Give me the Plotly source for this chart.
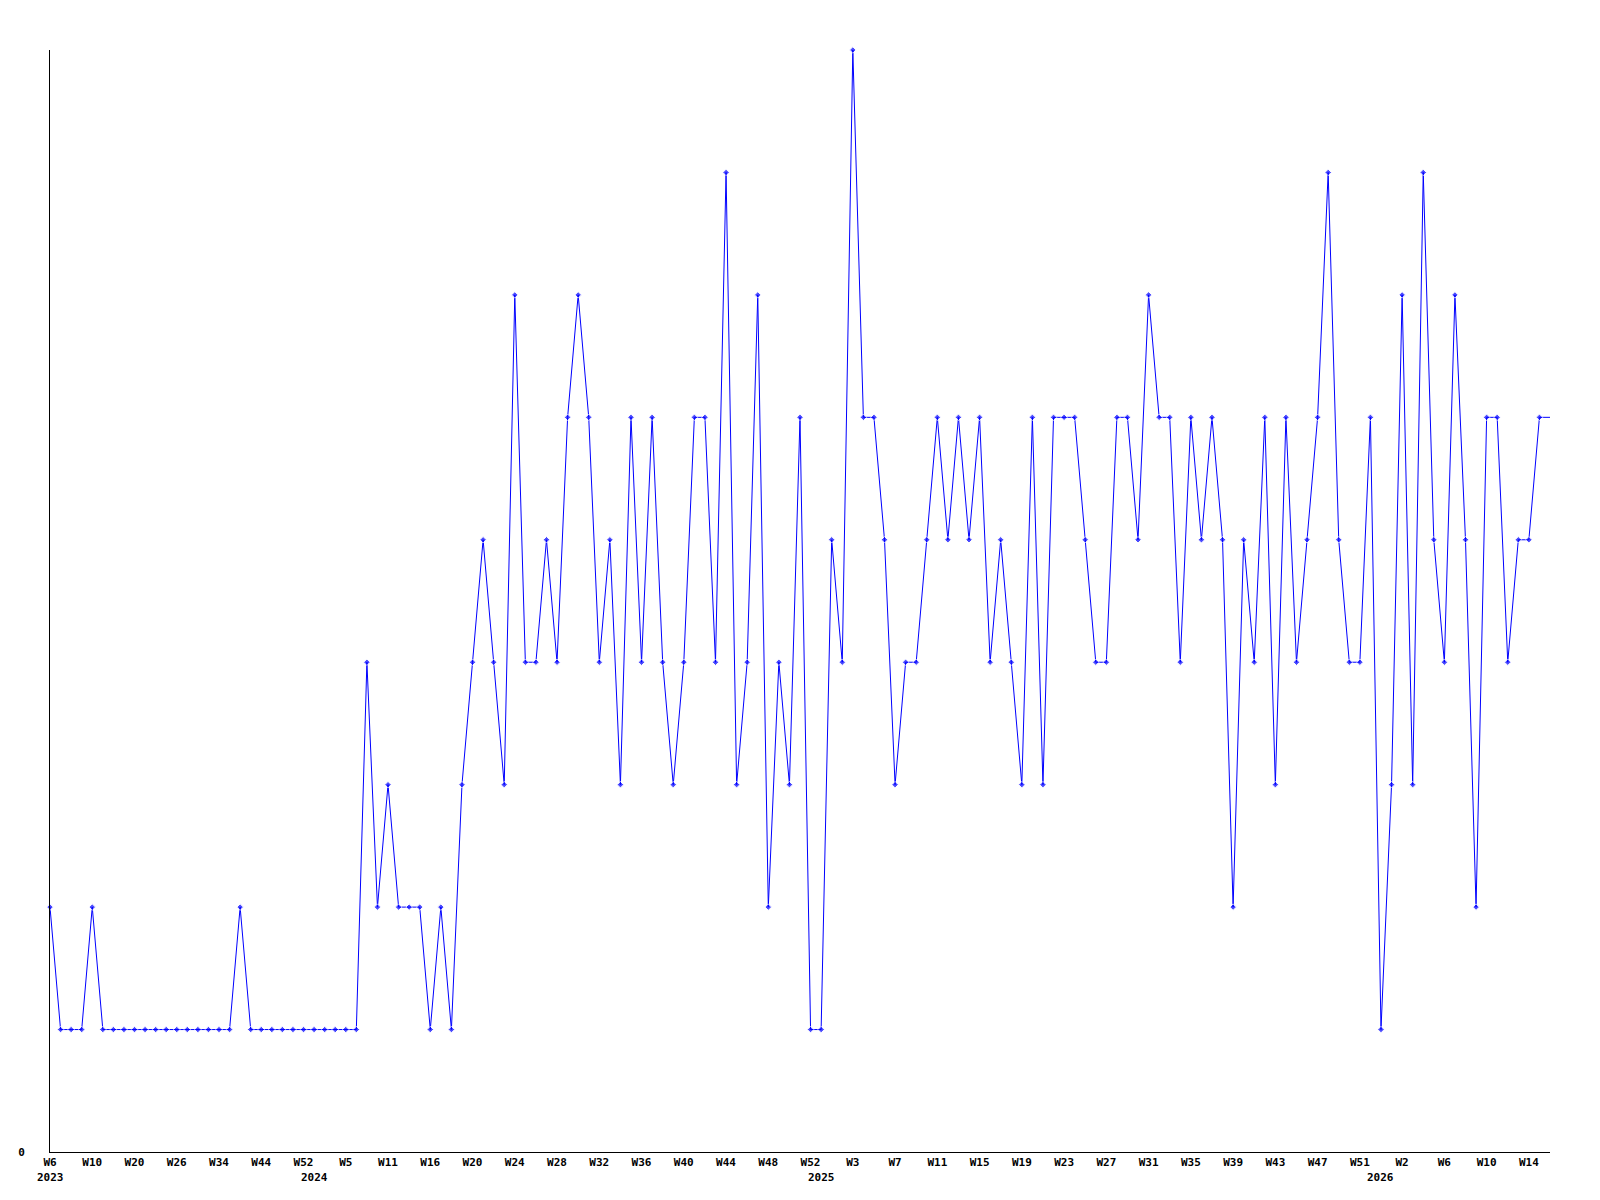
import plotly.graph_objects as go

# ---- data ----
values = [2, 1, 1, 1, 2, 1, 1, 1, 1, 1, 1, 1, 1, 1, 1, 1, 1, 1, 2, 1,
          1, 1, 1, 1, 1, 1, 1, 1, 1, 1,
          4, 2, 3, 2, 2, 2, 1, 2, 1, 3, 4, 5, 4, 3, 7, 4, 4, 5, 4, 6, 7,
          6, 4, 5, 3, 6, 4, 6, 4, 3, 4, 6, 6, 4, 8, 3, 4, 7, 2, 4, 3, 6, 1,
          1, 5, 4, 9, 6, 6, 5, 3, 4, 4, 5, 6, 5, 6, 5, 6, 4, 5, 4, 3, 6, 3, 6,
          6, 6, 5, 4, 4, 6, 6, 5, 7, 6, 6, 4, 6, 5, 6, 5, 2, 5, 4, 6, 3, 6,
          4, 5, 6, 8, 5, 4, 4, 6, 1, 3, 7, 3, 8, 5, 4, 7, 5, 2, 6, 6, 4, 5, 5, 6, 6]

week_labels = ["W6", "W10", "W20", "W26", "W34", "W44", "W52",
               "W5", "W11", "W16", "W20", "W24", "W28", "W32", "W36", "W40", "W44", "W48", "W52",
               "W3", "W7", "W11", "W15", "W19", "W23", "W27", "W31", "W35", "W39", "W43", "W47", "W51",
               "W2", "W6", "W10", "W14"]
label_step = 4

years = ["2023", "2024", "2025", "2026"]
year_index = [0, 25, 73, 126]

# ---- figure ----
n = len(values)
x = list(range(n))
tickvals = [i * label_step for i in range(len(week_labels))]
marker_sizes = [5] * (n - 1) + [0]

font_family = "DejaVu Sans Mono"

fig = go.Figure()
fig.add_trace(go.Scatter(
    x=x, y=values, mode="lines+markers",
    line=dict(color="#0000FF", width=1),
    marker=dict(symbol="diamond", size=marker_sizes, color="#0000FF"),
    cliponaxis=False,
    showlegend=False,
    hoverinfo="skip",
))

for yr, idx in zip(years, year_index):
    fig.add_annotation(
        x=idx, y=0, xref="x", yref="paper", text=yr, showarrow=False,
        xanchor="center", yanchor="top", yshift=-17,
        font=dict(family=font_family, size=11, color="black", weight="bold"),
    )

# page body has an 8px margin; size the figure so the plot area lands on the reference
fig.update_layout(
    width=1584, height=1184,
    paper_bgcolor="white", plot_bgcolor="white",
    margin=dict(l=42, r=42, t=42, b=40, pad=0, autoexpand=False),
    font=dict(family=font_family, size=11, color="black"),
    xaxis=dict(
        range=[0, n - 1], showgrid=False, zeroline=False, automargin=False,
        showline=True, linecolor="black", linewidth=1,
        tickmode="array", tickvals=tickvals, ticktext=week_labels,
        ticks="", ticklabelstandoff=0,
        tickfont=dict(family=font_family, size=11, color="black", weight="bold"),
        tickangle=0,
    ),
    yaxis=dict(
        range=[0, 9], showgrid=False, zeroline=False, automargin=False,
        showline=True, linecolor="black", linewidth=1,
        tickmode="array", tickvals=[0], ticktext=["0"],
        ticks="", ticklabelstandoff=22,
        tickfont=dict(family=font_family, size=11, color="black", weight="bold"),
    ),
)

fig.write_html("out.html")
